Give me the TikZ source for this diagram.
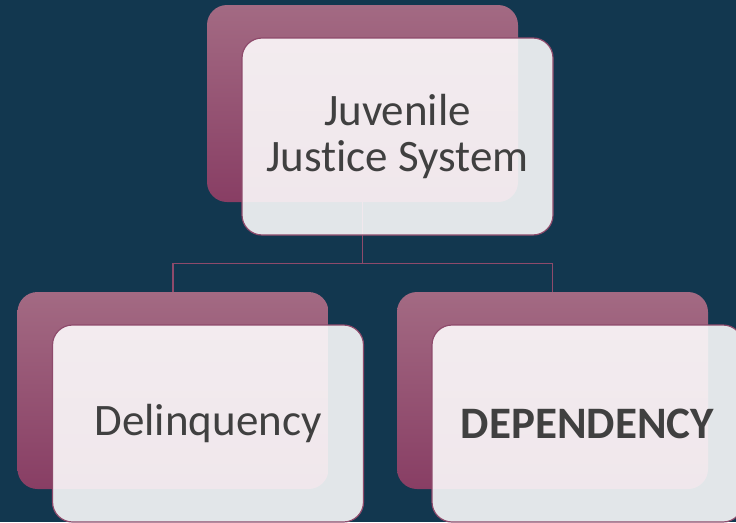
\documentclass[tikz,border=0pt]{standalone}
\usepackage{fontspec}
\setmainfont[Ligatures=NoCommon]{Carlito}
\definecolor{navybg}{HTML}{12374F}
\definecolor{plumtop}{HTML}{A36A83}
\definecolor{plumbot}{HTML}{883E64}
\definecolor{plumline}{HTML}{8E4A6B}
\definecolor{inktext}{HTML}{404040}
\begin{document}
\begin{tikzpicture}[x=1pt,y=-1pt,
    backcard/.style={rectangle,rounded corners=20pt,inner sep=0pt,
      minimum width=311pt,minimum height=197pt,top color=plumtop,bottom color=plumbot},
    frontcard/.style={rectangle,rounded corners=20pt,inner sep=0pt,
      minimum width=311pt,minimum height=197pt,draw=plumline,line width=1.2pt,
      fill=white,fill opacity=0.88,text opacity=1,text=inktext,align=center,
      font=\fontsize{45}{47}\selectfont},
    link/.style={draw=plumline,line width=1.2pt}]
  \fill[navybg] (0,0) rectangle (736,522);
  \useasboundingbox (0,0) rectangle (736,522);
  % back cards
  \node[backcard] (topback) at (362.5,103.5) {};
  \node[backcard] (leftback) at (173,390.5) {};
  \node[backcard] (rightback) at (552.5,390.5) {};
  % tree lines
  \draw[link] (topback.south) -- ++(0,61) coordinate (split) -| (leftback.north);
  \draw[link] (split) -| (rightback.north);
  % front cards
  \node[frontcard] (topfront) at ([shift={(35,33)}]topback.center) {Juvenile\\Justice System};
  \node[frontcard] (leftfront) at ([shift={(35,33)}]leftback.center) {Delinquency};
  \node[frontcard] (rightfront) at ([shift={(35,33)}]rightback.center) {\textbf{DEPENDENCY}};
\end{tikzpicture}
\end{document}
